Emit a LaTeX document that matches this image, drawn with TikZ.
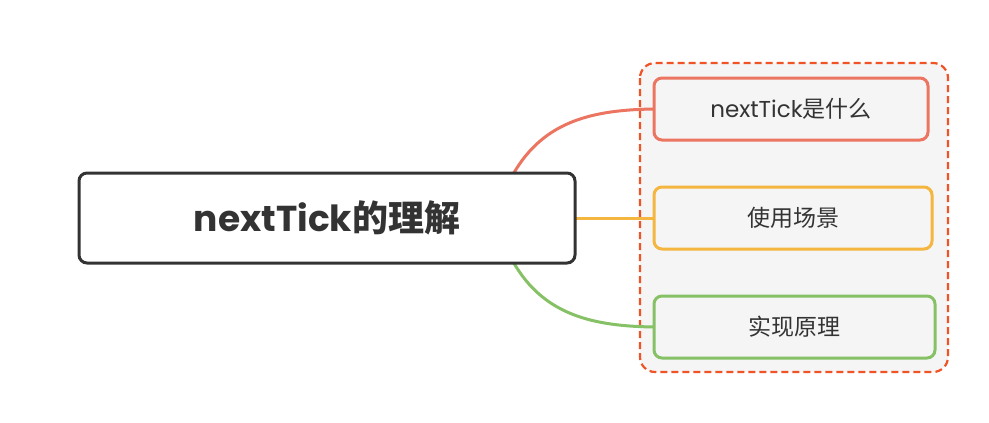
\documentclass[tikz,border=0pt]{standalone}
\usepackage{xcolor}
\usepackage{fontspec}
\usepackage{tikz}
\setmainfont{Poppins}
\newfontfamily\cjk{Noto Sans CJK SC}

\definecolor{darkline}{HTML}{333333}
\definecolor{redline}{HTML}{EC7561}
\definecolor{yellowline}{HTML}{F4B63F}
\definecolor{greenline}{HTML}{86C166}
\definecolor{groupline}{HTML}{F05325}
\definecolor{groupfill}{HTML}{F5F5F5}

\tikzset{
  topic/.style={draw=darkline, line width=3pt, rounded corners=8pt, fill=white,
    minimum width=496pt, minimum height=90pt, text=darkline, font=\fontsize{36}{40}\selectfont\bfseries},
  subtopic/.style={line width=3pt, rounded corners=8pt, fill=groupfill,
    minimum height=62pt, text=darkline, font=\fontsize{23}{26}\selectfont},
  link/.style={line width=3pt}
}

\begin{document}
\begin{tikzpicture}[x=1pt, y=1pt]
             \useasboundingbox (0,0) rectangle (989,-423);

             % group frame
             \draw[groupline, dash pattern=on 7pt off 4pt, line width=2.2pt, fill=groupfill, rounded corners=15pt]
                  (640,-63) rectangle (948,-372);

             % link ends
             \coordinate (roottop) at (510,-180);
             \coordinate (rootmid) at (570,-218);
             \coordinate (rootbot) at (510,-256);
             \coordinate (whatin) at (660,-109);
             \coordinate (usein) at (660,-218);
             \coordinate (howin) at (660,-327);

             \draw[link, redline] (roottop) .. controls (540,-122) and (590,-109) .. (whatin);
             \draw[link, yellowline] (rootmid) -- (usein);
             \draw[link, greenline] (rootbot) .. controls (540,-314) and (590,-327) .. (howin);

             \node[topic] (root) at (327,-218) {nextTick{\cjk 的理解}};

             \node[subtopic, draw=redline, minimum width=274pt] (what) at (791,-109) {nextTick{\cjk 是什么}};
             \node[subtopic, draw=yellowline, minimum width=278pt] (use) at (793,-218) {\cjk 使用场景};
             \node[subtopic, draw=greenline, minimum width=281pt] (how) at (794.5,-327) {\cjk 实现原理};
\end{tikzpicture}
\end{document}
